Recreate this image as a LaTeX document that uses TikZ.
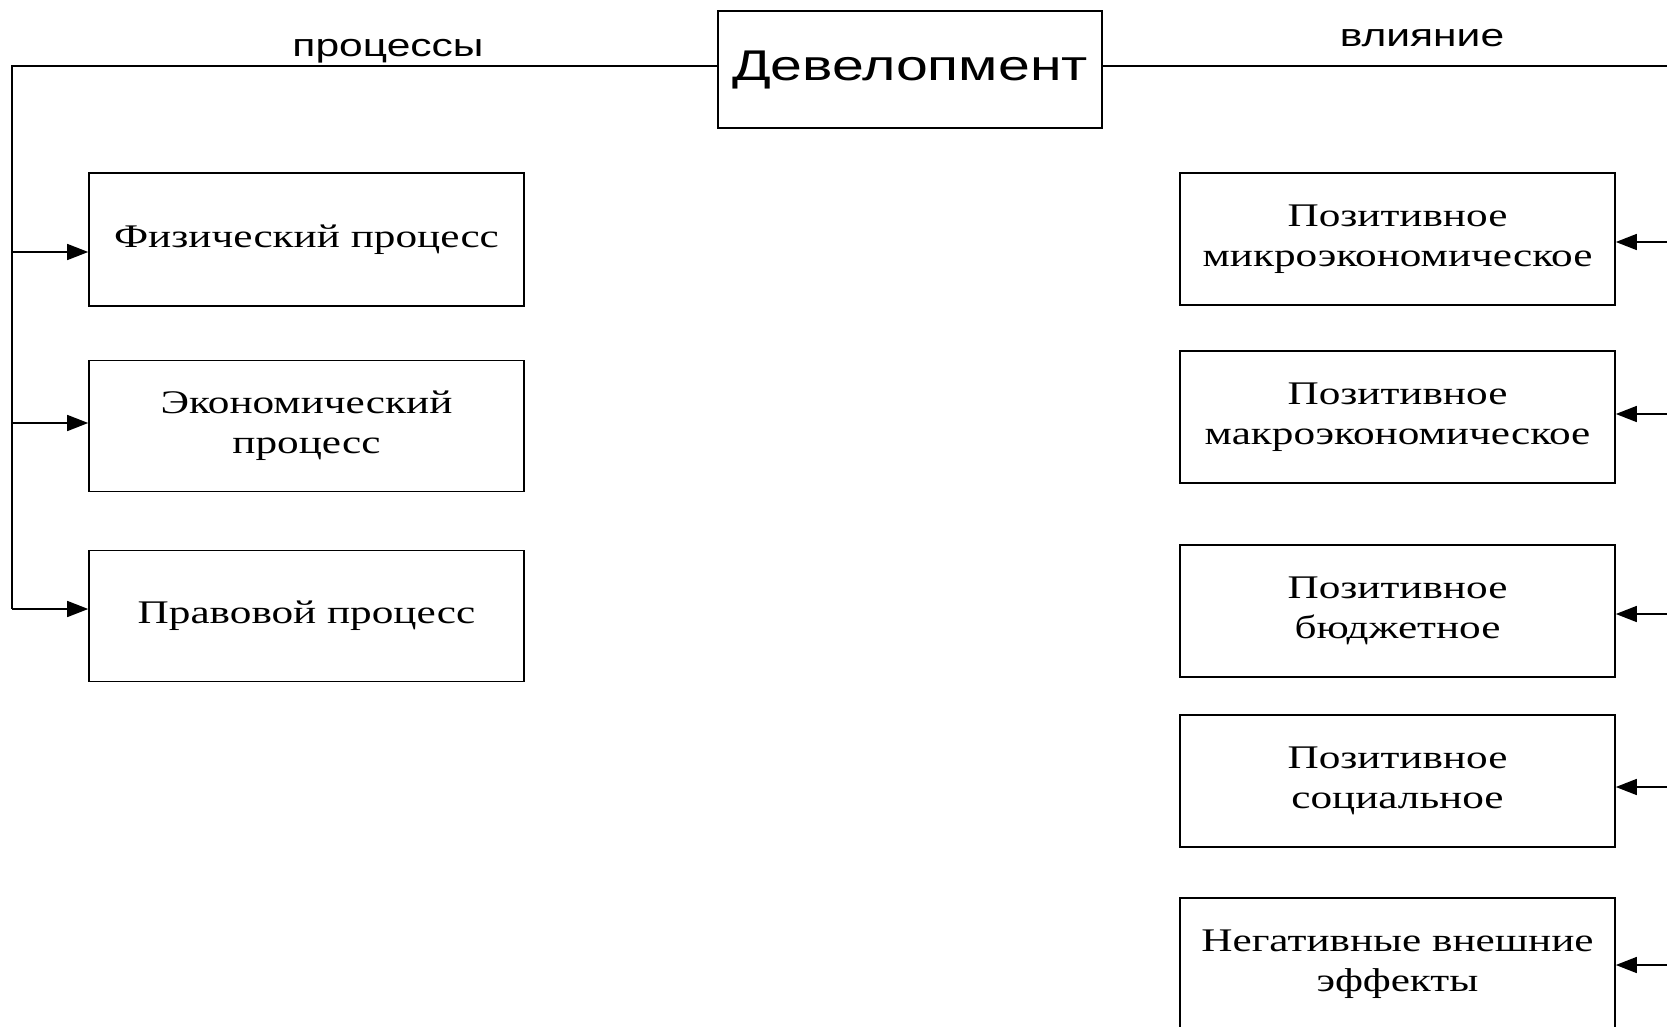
\documentclass[tikz,border=0pt]{standalone}
\usepackage{fontspec}
\setmainfont{Liberation Serif}[FakeStretch=1.31]
\newfontfamily\arialf{Liberation Sans}[FakeStretch=1.33]
\usetikzlibrary{arrows.meta}
\begin{document}
\begin{tikzpicture}[x=1pt,y=-1pt,
  box/.style={draw, line width=1.6pt, minimum width=435pt, align=center, inner sep=0pt,
    font=\fontsize{33}{40}\selectfont},
  ln/.style={line width=1.5pt},
  arr/.style={ln, -{Triangle[length=21pt,width=16pt]}},
  lbl/.style={font=\arialf\fontsize{32}{36}\selectfont, anchor=base, inner sep=0pt}]
\useasboundingbox (0,0) rectangle (1667,1027);
\clip (0,0) rectangle (1667,1027);
\fill[white] (0,0) rectangle (1667,1027);

\node[box, minimum width=384pt, minimum height=117pt, font=\arialf\fontsize{43}{48}\selectfont] (dev) at (910,69.5) {Девелопмент};

\node[box, minimum height=133pt] (fiz) at (306.5,239.5) {Физический процесс};
\node[box, minimum height=131pt] (eco) at (306.5,426) {Экономический\\процесс};
\node[box, minimum height=131pt] (law) at (306.5,616) {Правовой процесс};

\node[box, minimum height=132pt] (r1) at (1397.5,239) {Позитивное\\микроэкономическое};
\node[box, minimum height=132pt] (r2) at (1397.5,417) {Позитивное\\макроэкономическое};
\node[box, minimum height=132pt] (r3) at (1397.5,611) {Позитивное\\бюджетное};
\node[box, minimum height=132pt] (r4) at (1397.5,781) {Позитивное\\социальное};
\node[box, minimum height=132pt] (r5) at (1397.5,964) {Негативные внешние\\эффекты};

\node[lbl] (p) at (388,57) {процессы};
\node[lbl] (v) at (1422,47) {влияние};

\coordinate (TL) at (12,66);
\coordinate (BL) at (12,609);
\coordinate (TR) at (1690,66);
\coordinate (BR) at (1690,965);
\draw[ln] (dev.west |- TL) -- (TL) -- (BL);
\draw[ln] (dev.east |- TR) -- (TR) -- (BR);

\coordinate (l1) at (12,252);
\coordinate (l2) at (12,423);
\draw[arr] (l1) -- (l1 -| fiz.west);
\draw[arr] (l2) -- (l2 -| eco.west);
\draw[arr] (BL) -- (BL -| law.west);

\coordinate (c1) at (1690,242);
\coordinate (c2) at (1690,414);
\coordinate (c3) at (1690,614);
\coordinate (c4) at (1690,787);
\draw[arr] (c1) -- (c1 -| r1.east);
\draw[arr] (c2) -- (c2 -| r2.east);
\draw[arr] (c3) -- (c3 -| r3.east);
\draw[arr] (c4) -- (c4 -| r4.east);
\draw[arr] (BR) -- (BR -| r5.east);
\end{tikzpicture}
\end{document}
